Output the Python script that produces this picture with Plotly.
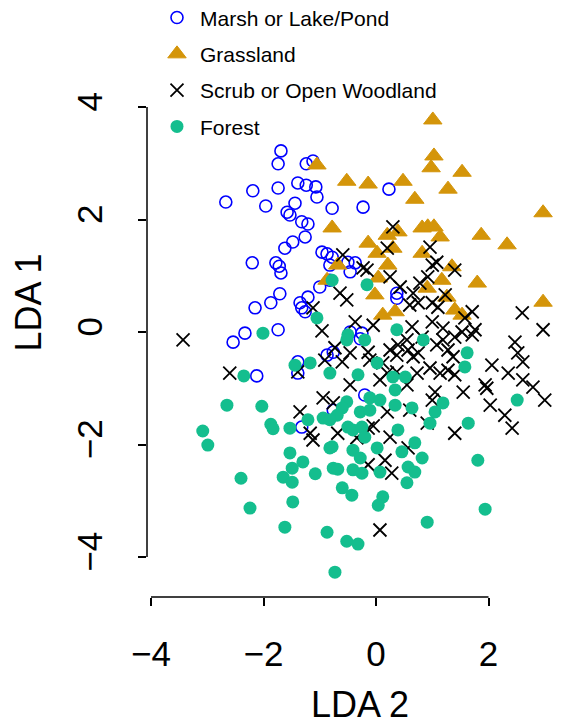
import plotly.graph_objects as go

# ---------------- data ----------------
group_names = ["Marsh or Lake/Pond", "Grassland", "Scrub or Open Woodland", "Forest"]

marsh_x = [-1.69, -1.74, -1.24, -1.12, -1.39, -1.24, -1.07, -1.05, -2.19, -2.67, -1.96, -1.74,
           -1.44, -1.58, -0.78, -0.23, 0.23, -1.53, -1.32, -1.21, -2.20, -1.78, -1.72, -1.69,
           -1.62, -1.48, -1.26, -1.71, -1.87, -2.15, -2.33, -1.74, -0.96, -0.87, -0.78, -0.82,
           -0.50, -0.37, -0.46, -0.82, -1.00, -1.21, -1.35, -1.32, -1.26, -0.46, -0.25, 0.37,
           0.37, -2.54, -2.12, -0.28, -1.39, -1.39, -0.87, -0.76, -0.20, -1.32, -0.76]
marsh_y = [3.22, 2.99, 2.99, 3.04, 2.65, 2.61, 2.58, 2.40, 2.51, 2.31, 2.24, 2.56,
           2.29, 2.13, 2.20, 2.22, 2.54, 2.08, 1.96, 1.92, 1.23, 1.23, 1.17, 1.05,
           1.49, 1.60, 1.69, 0.68, 0.52, 0.43, -0.02, 0.04, 1.42, 1.39, 1.33, 1.19,
           1.24, 1.23, 1.07, 0.92, 0.80, 0.62, 0.52, 0.43, 0.36, 0.00, -0.02, 0.69,
           0.60, -0.18, -0.78, -0.12, -0.53, -0.73, -0.41, -0.36, -1.12, -1.69, -1.39]

grass_x = [-1.05, -0.52, -0.14, 0.48, 0.69, 1.01, 1.03, 0.98, 1.53, 1.28, 2.97, -0.78,
           -0.14, 0.20, 0.39, 0.30, 0.02, 0.21, -0.68, -0.87, 0.04, -0.02, 0.12, 0.34,
           0.82, 0.92, 1.03, 1.14, 1.87, 2.33, 0.82, 1.35, 1.17, 1.80, 0.91, 1.26,
           1.40, 1.53, 2.97]
grass_y = [2.97, 2.68, 2.63, 2.68, 2.36, 3.77, 3.13, 2.92, 2.84, 2.54, 2.12, 1.85,
           1.58, 1.72, 1.78, 1.49, 1.40, 1.19, 1.19, 0.92, 0.96, 0.66, 0.30, 0.36,
           1.85, 1.87, 1.87, 1.69, 1.72, 1.55, 1.40, 1.16, 0.92, 0.87, 0.78, 0.62,
           0.39, 0.30, 0.53]

scrub_x = [-3.43, -2.60, 0.30, -0.59, -0.23, -0.16, 0.20, 0.25, 0.43, 0.66, -0.64, -0.52,
           -1.12, 0.60, -0.37, -0.05, -0.96, 0.64, 0.96, 1.08, 1.00, 1.40, 0.92, 0.78,
           1.23, 1.00, 1.10, 1.71, 1.58, 2.60, 2.97, 1.00, 1.19, 0.75, 1.76, 1.53,
           -0.73, -0.46, -0.91, -0.60, -1.39, -0.14, -0.11, 0.12, 0.25, 0.39, 0.37, 0.55,
           0.57, 0.66, -0.46, 0.20, 0.37, 0.55, 0.07, -0.94, -0.76, -1.35, 0.20, 0.60,
           -0.14, -0.05, -0.68, -0.34, -1.17, -1.12, 0.25, 0.82, 1.19, 1.40, 1.71, 2.47,
           0.75, 1.28, 1.08, 1.37, 2.06, 2.35, 2.52, 2.61, 0.73, 0.96, 1.14, 1.28,
           1.40, 2.61, 2.79, 1.94, 1.97, 1.55, 1.05, 1.00, 3.00, 2.03, 2.29, 2.42,
           1.40, 0.91, -0.14, 0.16, 0.28, 0.07, 0.57]
scrub_y = [-0.14, -0.73, 1.87, 1.37, 1.14, 1.10, 1.49, 0.98, 0.80, 0.69, 0.69, 0.57,
           0.43, 0.48, 0.18, 0.12, 0.02, 0.09, 1.51, 1.24, 1.19, 1.10, 0.98, 0.87,
           0.66, 0.52, 0.44, 0.36, 0.25, 0.34, 0.04, 0.18, 0.07, 0.52, 0.04, 0.00,
           -0.28, -0.37, -0.50, -0.53, -0.71, -0.36, -0.50, -0.55, -0.32, -0.23, -0.41, -0.14,
           -0.32, -0.44, -0.94, -0.73, -0.71, -0.94, -0.85, -1.17, -1.26, -1.42, -1.42, -1.39,
           -1.71, -1.67, -1.80, -1.88, -1.80, -1.92, -1.87, -0.09, -0.14, -0.09, -0.05, -0.18,
           -0.37, -0.32, -0.23, -0.44, -0.59, -0.73, -0.37, -0.53, -0.73, -0.64, -0.73, -0.68,
           -0.76, -0.85, -0.98, -0.94, -1.00, -1.07, -1.07, -1.21, -1.21, -1.30, -1.48, -1.71,
           -1.80, -1.62, -2.36, -2.28, -2.51, -3.52, -2.06]

forest_x = [-2.01, -0.78, -0.16, -1.05, 0.37, -0.50, -2.35, -2.65, -2.03, -1.87, -1.83, -3.08,
            -2.99, -0.52, -0.20, -1.17, -1.44, -0.82, -0.32, 0.02, 0.30, 0.52, 0.34, 0.64,
            -0.11, 0.07, 0.34, -0.52, -0.60, -0.69, -0.28, -0.11, -0.94, -0.82, -1.21, -1.53,
            -0.50, -0.41, -0.25, -0.20, 0.39, 0.69, -0.78, 0.84, 1.62, 1.58, 2.51, 1.19,
            1.05, 0.96, 1.64, -2.40, -2.24, -1.53, -1.30, -1.49, -1.65, -1.49, -1.08, -0.82,
            -0.41, -0.76, -0.68, -0.41, -0.25, -0.28, 0.02, 0.07, 0.46, 0.57, 0.69, 0.55,
            -0.60, -0.43, 0.12, 0.04, -1.48, -1.62, -0.87, -0.52, -0.32, -0.73, 0.82, 1.81,
            1.94, 0.91]
forest_y = [-0.02, 0.92, 0.84, 0.25, 0.04, -0.05, -0.78, -1.30, -1.32, -1.64, -1.72, -1.76,
            -2.01, -0.14, -0.14, -0.55, -0.59, -0.73, -0.76, -0.55, -0.80, -0.80, -1.03, -1.35,
            -1.17, -1.21, -1.30, -1.24, -1.35, -1.48, -1.42, -1.39, -1.53, -1.56, -1.56, -1.71,
            -1.69, -1.74, -1.69, -1.87, -1.74, -1.97, -2.04, -0.14, -0.37, -0.62, -1.21, -1.26,
            -1.42, -1.62, -1.62, -2.60, -3.13, -2.15, -2.31, -2.42, -2.58, -2.67, -2.52, -2.06,
            -2.10, -2.42, -2.44, -2.45, -2.51, -2.24, -2.06, -2.49, -2.13, -2.40, -2.49, -2.68,
            -2.77, -2.90, -2.93, -3.08, -3.02, -3.47, -3.56, -3.72, -3.77, -4.27, -2.24, -2.28,
            -3.15, -3.38]

x_ticks = [-4, -2, 0, 2]
y_ticks = [-4, -2, 0, 2, 4]

# ---------------- styling ----------------
# the page body adds an 8px offset, so the figure is shifted by 8px in the window
W, H = 565, 717
ML, MR, MT, MB = 139, 0, 0, 128
X_RANGE = [-4.071, 3.502]
Y_RANGE = [-4.711, 5.76]
FONT = "Liberation Sans, Arial, Helvetica, sans-serif"

BLUE = "#0000FF"
GOLD = "#D4950A"
TEAL = "#14BE8E"

fig = go.Figure()
fig.add_trace(go.Scatter(
    x=marsh_x, y=marsh_y, mode="markers", name=group_names[0], legendgroup="g1",
    marker=dict(symbol="circle-open", size=12, color=BLUE, line=dict(width=1.6, color=BLUE))))
fig.add_trace(go.Scatter(
    x=grass_x, y=grass_y, mode="markers", name=group_names[1], legendgroup="g2",
    marker=dict(symbol="triangle-up", size=16, color=GOLD, line=dict(width=1, color=GOLD))))
fig.add_trace(go.Scatter(
    x=scrub_x, y=scrub_y, mode="markers", name=group_names[2], legendgroup="g3",
    marker=dict(symbol="x-thin-open", size=13, color="black", line=dict(width=1.8, color="black"))))
fig.add_trace(go.Scatter(
    x=forest_x, y=forest_y, mode="markers", name=group_names[3], legendgroup="g4",
    marker=dict(symbol="circle", size=13, color=TEAL, line=dict(width=0))))


def py(v):
    return (v - Y_RANGE[0]) / (Y_RANGE[1] - Y_RANGE[0])


def px(v):
    return (v - X_RANGE[0]) / (X_RANGE[1] - X_RANGE[0])


shapes = [
    dict(type="line", xref="paper", yref="paper", x0=0, x1=0,
         y0=py(y_ticks[0]), y1=py(y_ticks[-1]), line=dict(color="black", width=1.5)),
    dict(type="line", xref="paper", yref="paper", y0=0, y1=0,
         x0=px(x_ticks[0]), x1=px(x_ticks[-1]), line=dict(color="black", width=1.5)),
]

fig.update_layout(
    width=W, height=H,
    margin=dict(l=ML, r=MR, t=MT, b=MB, pad=0, autoexpand=False),
    paper_bgcolor="white", plot_bgcolor="white",
    font=dict(family=FONT, color="black", size=21),
    shapes=shapes,
    showlegend=True,
    legend=dict(x=0.0164, y=1.018, xanchor="left", yanchor="top",
                font=dict(size=21, color="black", family=FONT),
                bgcolor="rgba(0,0,0,0)", tracegroupgap=6, itemsizing="trace",
                itemwidth=36),
    xaxis=dict(range=X_RANGE, tickmode="array", tickvals=x_ticks,
               showgrid=False, zeroline=False, showline=False,
               ticks="outside", ticklen=8, tickwidth=1.5, tickcolor="black",
               ticklabelstandoff=18,
               tickfont=dict(size=35, color="black", family=FONT),
               title=dict(text="LDA 2", font=dict(size=36, color="black", family=FONT), standoff=32)),
    yaxis=dict(range=Y_RANGE, tickmode="array", tickvals=y_ticks,
               showgrid=False, zeroline=False, showline=False,
               ticks="outside", ticklen=8, tickwidth=1.5, tickcolor="black", tickangle=-90,
               ticklabelstandoff=22,
               tickfont=dict(size=35, color="black", family=FONT),
               title=dict(text="LDA 1", font=dict(size=36, color="black", family=FONT), standoff=25)),
)

fig.write_html("out.html")
